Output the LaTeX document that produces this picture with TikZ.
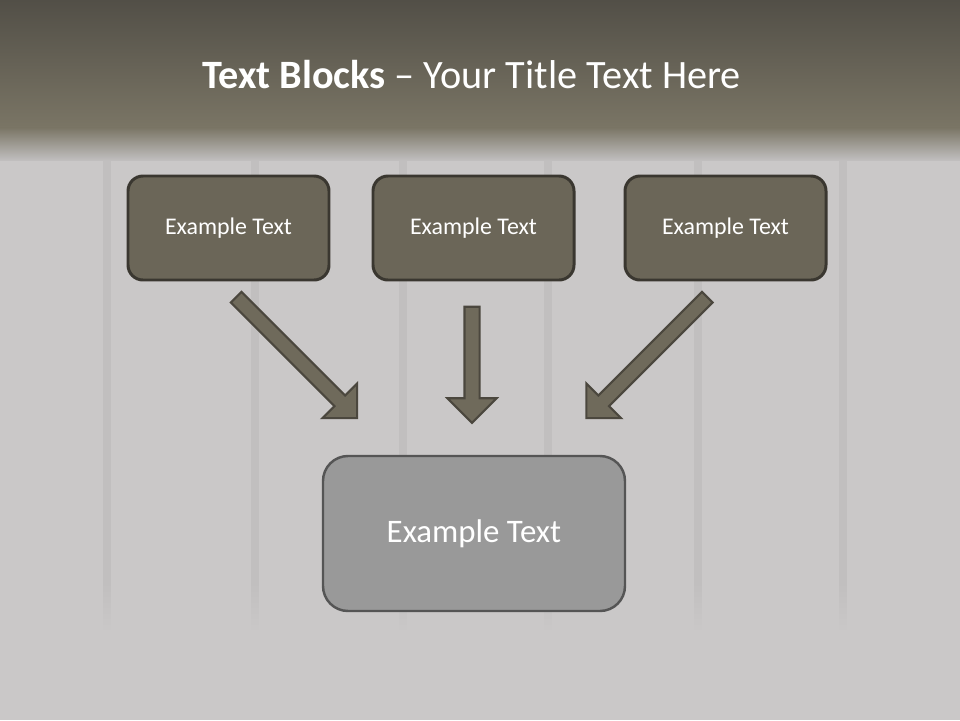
\documentclass[tikz,border=0pt]{standalone}
\usepackage{fontspec}
\setmainfont{Carlito}
\usetikzlibrary{shapes.arrows,fadings}
\definecolor{bandtop}{HTML}{524F47}
\definecolor{bandlow}{HTML}{7A7565}
\definecolor{wall}{HTML}{CAC8C8}
\definecolor{plank}{HTML}{BBBABA}
\definecolor{boxfill}{HTML}{6B6658}
\definecolor{boxline}{HTML}{3A3730}
\definecolor{arrowfill}{HTML}{6F6A5B}
\definecolor{arrowline}{HTML}{4B473E}
\definecolor{mainfill}{HTML}{999999}
\definecolor{mainline}{HTML}{555555}
\tikzfading[name=fadeup, top color=transparent!100, bottom color=transparent!0]
\tikzset{
  topbox/.style={draw=boxline, line width=1.7pt, fill=boxfill, rounded corners=0.3cm,
    minimum width=4.02cm, minimum height=2.08cm, text=white, font=\fontsize{13.6}{16}\selectfont},
  mainbox/.style={draw=mainline, line width=1.4pt, fill=mainfill, rounded corners=0.5cm,
    minimum width=6.04cm, minimum height=3.1cm, text=white, font=\fontsize{18.7}{22}\selectfont},
  blockarrow/.style={single arrow, draw=arrowline, fill=arrowfill, line width=1.2pt,
    inner xsep=0pt, inner ysep=0.13cm, single arrow head extend=0.34cm}
}
\begin{document}
\begin{tikzpicture}
\useasboundingbox (0,0) rectangle (19.2,-14.4);
% background
\fill[wall] (0,0) rectangle (19.2,-14.4);
\foreach \x in {2.14,5.1,8.06,10.96,13.96,16.86}{
\draw[plank, line width=0.16cm, opacity=0.6] (\x,-2.8)--(\x,-12.8);
}
\fill[wall, path fading=fadeup] (0,-11.6) rectangle (19.2,-12.6);
\fill[wall] (0,-12.6) rectangle (19.2,-14.4);
\shade[top color=bandtop, bottom color=bandlow] (0,0) rectangle (19.2,-2.55);
\shade[top color=bandlow, bottom color=wall!95!black] (0,-2.55) rectangle (19.2,-3.2);
% title
\node[text=white, font=\fontsize{22.9}{27}\selectfont] (title) at (9.43,-1.5) {\textbf{Text Blocks} -- Your Title Text Here};
% boxes
\node[topbox] (left) at (4.57,-4.56) {Example Text};
\node[topbox] (middle) at (9.47,-4.56) {Example Text};
\node[topbox] (right) at (14.51,-4.56) {Example Text};
\node[mainbox] (main) at (9.48,-10.67) {Example Text};
% arrows
\node[blockarrow, minimum height=3.42cm, rotate=-45] (arrL) at (5.88,-7.10) {};
\node[blockarrow, minimum height=2.32cm, rotate=-90] (arrM) at (9.44,-7.22) {};
\node[blockarrow, minimum height=3.42cm, rotate=-135] (arrR) at (12.99,-7.10) {};
\end{tikzpicture}
\end{document}
